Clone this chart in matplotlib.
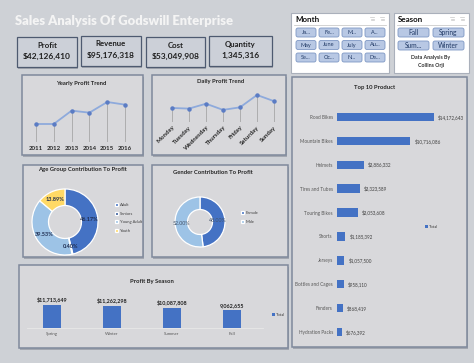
import matplotlib
matplotlib.use("Agg")
import matplotlib.pyplot as plt
from matplotlib.patches import Rectangle, FancyBboxPatch

plt.rcParams['font.family'] = ['Lato', 'DejaVu Sans']

# ---------------- data ----------------
kpi_labels = ["Profit", "Revenue", "Cost", "Quantity"]
kpi_values = ["$42,126,410", "$95,176,318", "$53,049,908", "1,345,316"]

years = ["2011", "2012", "2013", "2014", "2015", "2016"]
yearly_profit = [5.3, 5.3, 7.3, 7.0, 8.6, 8.2]          # $ millions (estimated)

days = ["Monday", "Tuesday", "Wednesday", "Thursday", "Friday", "Saturday", "Sunday"]
daily_profit = [5.87, 5.84, 6.07, 5.78, 5.90, 6.48, 6.19]  # $ millions (estimated)

age_groups = ["Adult", "Seniors", "Young Adult", "Youth"]
age_share = [46.17, 0.40, 39.53, 13.89]

genders = ["Female", "Male"]
gender_share = [48.00, 52.00]

seasons = ["Spring", "Winter", "Summer", "Fall"]
season_profit = [11713649, 11262298, 10087808, 9062655]
season_labels = ["$11,713,649", "$11,262,298", "$10,087,808", "9,062,655"]

products = ["Road Bikes", "Mountain Bikes", "Helmets", "Tires and Tubes", "Touring Bikes",
            "Shorts", "Jerseys", "Bottles and Cages", "Fenders", "Hydration Packs"]
product_profit = [14172643, 10716086, 3886332, 3323589, 3053608,
                  1185392, 1057500, 958110, 868419, 676392]

month_buttons = ["Ja...", "Fe...", "M...", "A...", "May", "June", "July", "Au...",
                 "Se...", "Oc...", "N...", "De..."]
season_buttons = ["Fall", "Spring", "Sum...", "Winter"]

# ---------------- style ----------------
BG = '#ced1d6'
PANEL = '#d8d8db'
EDGE = '#7f899c'
BLUE = '#4472c4'
LIGHT = '#9dc3e6'
YELLOW = '#ffd966'
DARK = '#1f1f1f'

W, H = 474, 363
fig = plt.figure(figsize=(W / 100, H / 100), dpi=100)
fig.patch.set_facecolor(BG)

bg = fig.add_axes([0, 0, 1, 1], zorder=-1)
bg.set_xlim(0, W)
bg.set_ylim(H, 0)
bg.axis('off')


def fr(x0, y0, x1, y1):
    return [x0 / W, 1 - y1 / H, (x1 - x0) / W, (y1 - y0) / H]


def box(x0, y0, x1, y1, fc=PANEL, ec=EDGE, lw=1.1, shadow=True):
    if shadow:
        bg.add_patch(Rectangle((x0 + 1.5, y0 + 1.5), x1 - x0, y1 - y0,
                               fc='#a3a7b0', ec='none', zorder=1))
    bg.add_patch(Rectangle((x0, y0), x1 - x0, y1 - y0, fc=fc, ec=ec, lw=lw, zorder=2))


def button(x, y, w, h, label, fs=4.0):
    bg.add_patch(FancyBboxPatch((x, y), w, h, boxstyle="round,pad=0,rounding_size=2",
                                fc='#b8c8e4', ec='#7e97c4', lw=0.6, zorder=3))
    bg.text(x + w / 2, y + h / 2, label, ha='center', va='center', fontsize=fs,
            color='#1f3864', zorder=4)


def clean(ax):
    ax.set_facecolor('none')
    for s in ax.spines.values():
        s.set_visible(False)


# ---------------- title & KPIs ----------------
bg.text(15, 21, "Sales Analysis Of Godswill Enterprise", fontsize=9.4, fontweight='heavy',
        color='#f4f4f4', ha='left', va='center', zorder=4)

kpi_boxes = [(17, 37, 77, 67), (81, 36, 141, 66), (146, 37, 205, 67), (209, 36, 272, 66)]
for (x0, y0, x1, y1), lab, val in zip(kpi_boxes, kpi_labels, kpi_values):
    box(x0, y0, x1, y1, fc='#ccd0d8', ec='#4e5a70', lw=0.9)
    bg.text((x0 + x1) / 2, y0 + 8, lab, ha='center', va='center', fontsize=5.6,
            fontweight='bold', color=DARK, zorder=4)
    bg.text((x0 + x1) / 2, y0 + 19, val, ha='center', va='center', fontsize=6.0,
            fontweight='bold', color=DARK, zorder=4)

# ---------------- slicers ----------------
box(291, 13, 389, 73, fc='#ffffff', ec='#aab0bb', lw=0.8, shadow=False)
bg.text(295, 19, "Month", fontsize=5.8, fontweight='bold', color='#111111', va='center', zorder=4)
bg.plot([294, 386], [24.5, 24.5], color='#c0c0c0', lw=0.5, zorder=4)
for i, lab in enumerate(month_buttons):
    r, c = divmod(i, 4)
    button(296 + 23 * c, 28 + 12.5 * r, 20, 9, lab)

box(394, 13, 469, 73, fc='#ffffff', ec='#aab0bb', lw=0.8, shadow=False)
bg.text(398, 19, "Season", fontsize=5.8, fontweight='bold', color='#111111', va='center', zorder=4)
bg.plot([397, 466], [24.5, 24.5], color='#c0c0c0', lw=0.5, zorder=4)
for i, lab in enumerate(season_buttons):
    r, c = divmod(i, 2)
    button(398 + 35 * c, 28 + 13 * r, 31, 9, lab, fs=4.8)
bg.text(431, 58, "Data Analysis By", ha='center', va='center', fontsize=3.8,
        fontweight='bold', color='#333333', zorder=4)
bg.text(431, 66, "Collins Orji", ha='center', va='center', fontsize=3.8,
        fontweight='bold', color='#333333', zorder=4)
for xi in (372, 382, 452, 462):
    for k in range(3):
        bg.plot([xi - 2 + k * 0.6, xi + 2], [17 + k * 1.6, 17 + k * 1.6], color='#c8c8c8', lw=0.5, zorder=4)

# ---------------- panels ----------------
box(22, 75, 143, 155)
box(152, 75, 286, 155)
box(23, 165, 143, 257)
box(152, 165, 288, 257)
box(19, 265, 288, 348)
box(292, 77, 467, 347)

ttl = dict(ha='center', va='center', fontsize=4.2, fontweight='bold', color='#262626', zorder=4)
bg.text(81, 84, "Yearly Profit Trend", **ttl)
bg.text(221, 82, "Daily Profit Trend", **ttl)
bg.text(82, 169, "Age Group Contribution To Profit", **ttl)
bg.text(213, 173, "Gender Contribution To Profit", **ttl)
bg.text(152, 282, "Profit By Season", **ttl)
bg.text(375, 88, "Top 10 Product", **ttl)

# ---------------- yearly trend ----------------
ax = fig.add_axes(fr(27, 92, 134, 142))
clean(ax)
ylo = 2.6
ax.set_ylim(ylo, 10.1)
ax.set_xlim(-0.5, len(years) - 0.5)
xs = list(range(len(years)))
ax.vlines(xs, ylo, yearly_profit, color='#9c9c9c', lw=0.5)
ax.plot(xs, yearly_profit, color='#8eaadc', lw=1.3, marker='o', ms=2.2,
        mfc='#5b7cc4', mec='#5b7cc4')
ax.set_xticks(xs, years, fontsize=4.4, fontweight='bold', color='#262626')
ax.set_yticks([])
ax.tick_params(length=0, pad=3)

# ---------------- daily trend ----------------
ax = fig.add_axes(fr(163.5, 85, 282.5, 122))
clean(ax)
ylo = 5.21
ax.set_ylim(ylo, 6.95)
ax.set_xlim(-0.5, len(days) - 0.5)
xs = list(range(len(days)))
ax.vlines(xs, ylo, daily_profit, color='#9c9c9c', lw=0.5)
ax.plot(xs, daily_profit, color='#8eaadc', lw=1.3, marker='o', ms=2.2,
        mfc='#5b7cc4', mec='#5b7cc4')
ax.set_xticks(xs, days, fontsize=4.4, fontweight='bold', color='#262626',
              rotation=45, ha='right', rotation_mode='anchor')
ax.set_yticks([])
ax.tick_params(length=0, pad=2)

# ---------------- age donut ----------------
cx, cy, r = 65, 222, 33
ax = fig.add_axes(fr(cx - r * 1.05, cy - r * 1.05, cx + r * 1.05, cy + r * 1.05))
ax.pie(age_share, colors=[BLUE, '#2f5597', LIGHT, YELLOW], startangle=90, counterclock=False,
       wedgeprops=dict(width=0.5, edgecolor='white', linewidth=0.9),
       autopct='%.2f%%', pctdistance=0.75,
       textprops=dict(fontsize=4.0, fontweight='bold', color='#1f2d50'))
ax.set_xlim(-1.05, 1.05)
ax.set_ylim(-1.05, 1.05)
ax.legend(age_groups, loc='upper left', bbox_to_anchor=(113, 201), bbox_transform=bg.transData,
          frameon=False, fontsize=3.0, handlelength=0.7, handleheight=0.7, handletextpad=0.5,
          labelspacing=1.1, borderpad=0, labelcolor='#404040')

# ---------------- gender donut ----------------
cx, cy, r = 200, 222, 25
ax = fig.add_axes(fr(cx - r * 1.05, cy - r * 1.05, cx + r * 1.05, cy + r * 1.05))
ax.pie(gender_share, colors=[BLUE, LIGHT], startangle=90, counterclock=False,
       wedgeprops=dict(width=0.5, edgecolor='white', linewidth=0.9),
       autopct='%.2f%%', pctdistance=0.73,
       textprops=dict(fontsize=3.8, color='#44546a'))
ax.set_xlim(-1.05, 1.05)
ax.set_ylim(-1.05, 1.05)
ax.legend(genders, loc='upper left', bbox_to_anchor=(239, 209), bbox_transform=bg.transData,
          frameon=False, fontsize=3.0, handlelength=0.7, handleheight=0.7, handletextpad=0.5,
          labelspacing=1.1, borderpad=0, labelcolor='#404040')

# ---------------- profit by season ----------------
ax = fig.add_axes(fr(27, 295, 263, 328))
clean(ax)
xs = list(range(len(seasons)))
bars = ax.bar(xs, season_profit, width=0.3, color=BLUE, label='Total')
ax.bar_label(bars, labels=season_labels, padding=1.5, fontsize=3.9, fontweight='bold', color='#1f1f1f')
ax.set_xlim(-0.42, 3.52)
ax.set_ylim(0, 16.8e6)
ax.spines['bottom'].set_visible(True)
ax.spines['bottom'].set_color('#e8e8e8')
ax.spines['bottom'].set_linewidth(0.6)
ax.set_xticks(xs, seasons, fontsize=3.2, color='#595959')
ax.set_yticks([])
ax.tick_params(length=0, pad=3)
ax.legend(loc='center left', bbox_to_anchor=(270, 315), bbox_transform=bg.transData,
          frameon=False, fontsize=3.0, handlelength=0.6, handleheight=0.6, handletextpad=0.4,
          borderpad=0, labelcolor='#404040')

# ---------------- top 10 products ----------------
ax = fig.add_axes(fr(337, 105, 467, 344))
clean(ax)
ys = list(range(len(products)))
bars = ax.barh(ys, product_profit, height=0.35, color=BLUE, label='Total')
ax.bar_label(bars, labels=[f"${v:,}" for v in product_profit], padding=3, fontsize=3.3,
             color='#404040')
ax.set_xlim(0, 19.0e6)
ax.set_ylim(len(products) - 0.5, -0.5)
ax.set_yticks(ys, products, fontsize=3.4, color='#595959')
ax.set_xticks([])
ax.tick_params(length=0, pad=3)
ax.legend(loc='center left', bbox_to_anchor=(423, 227), bbox_transform=bg.transData,
          frameon=False, fontsize=3.0, handlelength=0.6, handleheight=0.6, handletextpad=0.4,
          borderpad=0, labelcolor='#404040')

fig.savefig("out.png", dpi=100, facecolor=BG)
